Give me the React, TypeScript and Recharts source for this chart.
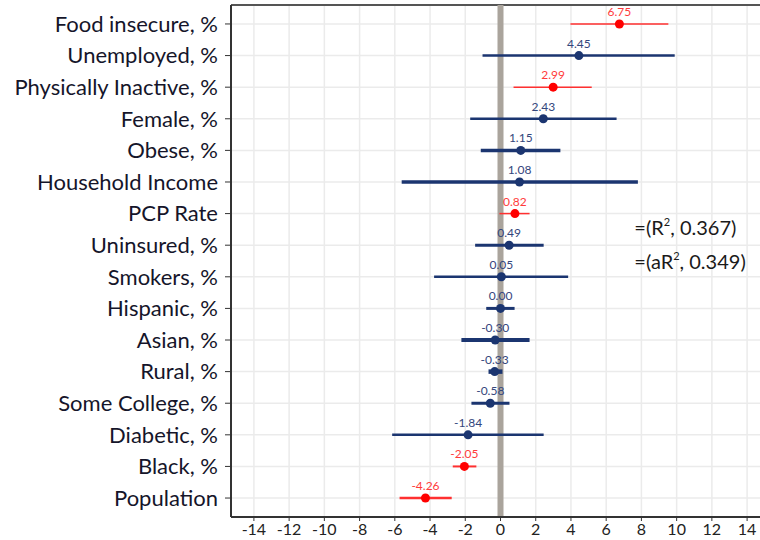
import { ScatterChart, Scatter, XAxis, YAxis, CartesianGrid, ReferenceLine, ReferenceDot } from 'recharts';

// rows listed top to bottom
const variables = [
    'Food insecure, %',
    'Unemployed, %',
    'Physically Inactive, %',
    'Female, %',
    'Obese, %',
    'Household Income',
    'PCP Rate',
    'Uninsured, %',
    'Smokers, %',
    'Hispanic, %',
    'Asian, %',
    'Rural, %',
    'Some College, %',
    'Diabetic, %',
    'Black, %',
    'Population',
];
const estimates = [6.75, 4.45, 2.99, 2.43, 1.15, 1.08, 0.82, 0.49, 0.05, 0.0, -0.3, -0.33, -0.58, -1.84, -2.05, -4.26];
const lower = [3.97, -1.02, 0.74, -1.72, -1.12, -5.61, -0.06, -1.44, -3.77, -0.81, -2.22, -0.68, -1.65, -6.15, -2.71, -5.73];
const upper = [9.53, 9.89, 5.18, 6.59, 3.4, 7.8, 1.65, 2.45, 3.84, 0.8, 1.65, 0.11, 0.51, 2.45, -1.37, -2.77];
const significant = [true, false, true, false, false, false, true, false, false, false, false, false, false, false, true, true];
const weights = [1.5, 2.5, 1.5, 2.5, 3.5, 3.5, 1.5, 3, 2.5, 3, 4, 4.5, 3, 2.5, 2, 2.5];
const xTicks = [-14, -12, -10, -8, -6, -4, -2, 0, 2, 4, 6, 8, 10, 12, 14];
const fitStats = [
    { name: 'R', value: '0.367' },
    { name: 'aR', value: '0.349' },
];

const NAVY = '#1b3570';
const RED = '#ff0000';
const n = variables.length;

const rows = variables.map((name, i) => ({
    name,
    x: estimates[i],
    y: n - i,
    lo: lower[i],
    hi: upper[i],
    sig: significant[i],
    w: weights[i],
}));

const yTicks = rows.map((r) => r.y).reverse();
const nameAt = (v: number) => rows.find((r) => r.y === v)?.name ?? '';

const PointShape = (props: any) => {
    const { cx, cy, payload } = props;
    const col = payload.sig ? RED : NAVY;
    return (
        <g>
            <circle cx={cx} cy={cy} r={4.5} fill={col} />
            <text
                x={cx}
                y={cy - 8}
                textAnchor="middle"
                fontSize={12}
                fontFamily="Lato"
                fill={payload.sig ? '#ff3b3b' : '#34467c'}
            >
                {payload.x.toFixed(2)}
            </text>
        </g>
    );
};

const StatLabel = ({ viewBox, name, value }: any) => (
    <text x={viewBox.x} y={viewBox.y} dominantBaseline="middle" fontSize={20} fontFamily="Lato" fill="#1a1a1a">
        <tspan>=({name}</tspan>
        <tspan fontSize={11} dy={-7}>2</tspan>
        <tspan dy={7}>, {value})</tspan>
    </text>
);

export default function App() {
    return (
        <div style={{ position: 'absolute', left: 0, top: 0, width: 760, height: 540, overflow: 'hidden', background: '#fff' }}>
            <ScatterChart width={770} height={540} margin={{ top: 5, right: 0, bottom: 0, left: 0 }}>
                <CartesianGrid stroke="#ebebeb" strokeWidth={1.5} />
                <XAxis
                    type="number"
                    dataKey="x"
                    domain={[-15.3, 15.3]}
                    ticks={xTicks}
                    allowDataOverflow
                    height={23}
                    tickSize={4}
                    tickMargin={3}
                    tick={{ fontSize: 16, fill: '#222', fontFamily: 'Lato' }}
                    tickLine={{ stroke: '#333' }}
                    axisLine={{ stroke: '#333', strokeWidth: 2 }}
                />
                <YAxis
                    type="number"
                    dataKey="y"
                    domain={[0.4, n + 0.6]}
                    ticks={yTicks}
                    allowDataOverflow
                    width={231}
                    tickSize={6}
                    tickMargin={7}
                    tickFormatter={nameAt}
                    tick={{ fontSize: 22, fill: '#15152a', fontFamily: 'Lato' }}
                    tickLine={{ stroke: '#333' }}
                    axisLine={{ stroke: '#333', strokeWidth: 2 }}
                />
                <ReferenceLine y={n + 0.6} stroke="#555" strokeWidth={2} />
                <ReferenceLine x={0} stroke="#aaa49c" strokeWidth={6} />
                {rows.map((r) => (
                    <ReferenceLine
                        key={r.name}
                        segment={[{ x: r.lo, y: r.y }, { x: r.hi, y: r.y }]}
                        stroke={r.sig ? '#ff3030' : NAVY}
                        strokeWidth={r.w}
                    />
                ))}
                {fitStats.map((s, i) => (
                    <ReferenceDot
                        key={s.name}
                        x={7.6}
                        y={9.47 - i * 1.05}
                        r={0}
                        fill="none"
                        stroke="none"
                        label={(p: any) => <StatLabel {...p} name={s.name} value={s.value} />}
                    />
                ))}
                <Scatter data={rows} shape={PointShape} isAnimationActive={false} />
            </ScatterChart>
        </div>
    );
}
